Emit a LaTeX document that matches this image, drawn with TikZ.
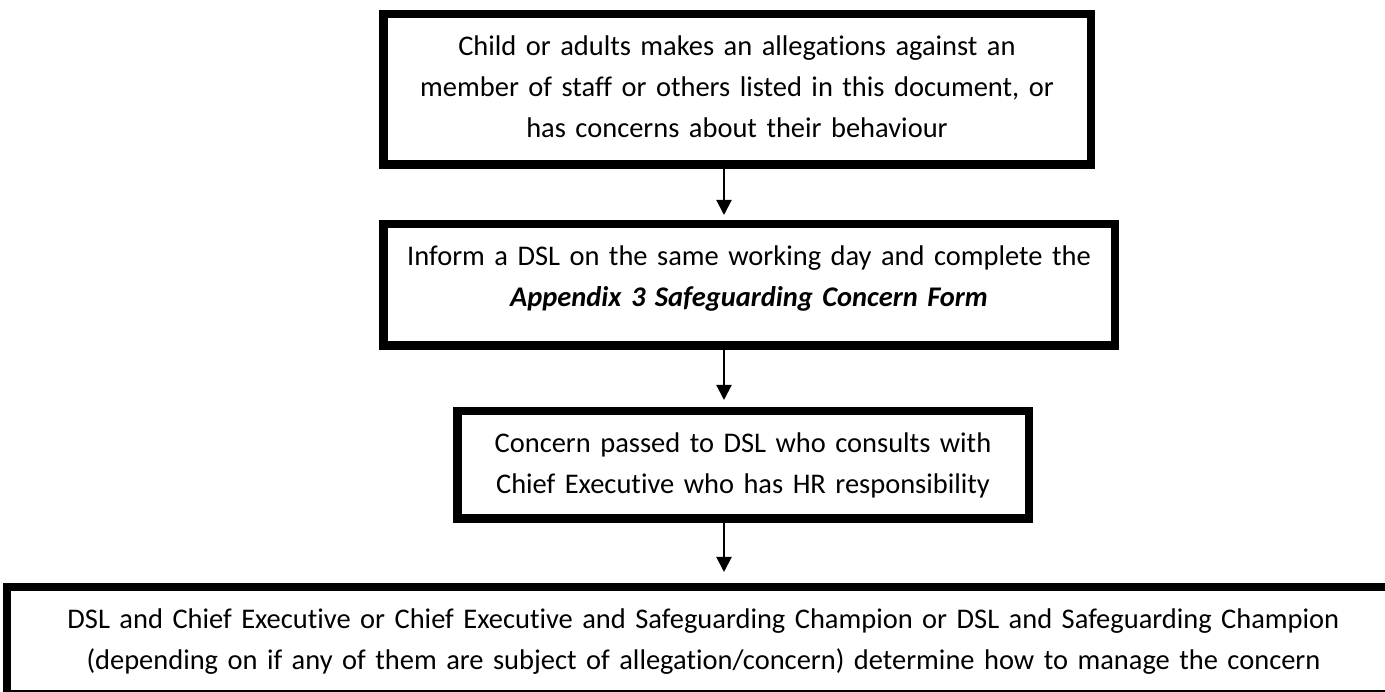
\documentclass[tikz,border=0pt]{standalone}
\usepackage{fontspec}
\setmainfont{Carlito}[Ligatures=NoCommon]
\usetikzlibrary{arrows.meta,positioning}

\tikzset{
  stepbox/.style={draw, line width=0.17cm, inner sep=0pt, align=center, anchor=north,
    text height=0.83cm, font=\fontsize{16.2pt}{23.3pt}\selectfont},
  flow/.style={-{Triangle[length=0.3cm,width=0.3cm]}, line width=0.04cm}
}

\begin{document}
\begin{tikzpicture}
\useasboundingbox (0,0) rectangle (27.70,-13.84);
\clip (0,0) rectangle (27.70,-13.84);
\coordinate (spine) at (14.48,0);
\node[stepbox, text width=14.15cm, text depth=2.18cm] (report) at (14.74,-0.20)
  {Child or adults makes an allegations against an\\ member of staff or others listed in this document, or\\ has concerns about their behaviour};
\node[stepbox, text width=14.63cm, text depth=1.60cm] (inform) at (14.98,-4.40)
  {Inform a DSL on the same working day and complete the\\ \textbf{\textit{Appendix 3 Safeguarding Concern Form}}};
\node[stepbox, text width=11.43cm, text depth=1.32cm] (consult) at (14.86,-8.14)
  {Concern passed to DSL who consults with\\ Chief Executive who has HR responsibility};
\node[stepbox, text width=27.85cm, text depth=1.32cm] (decide) at (14.07,-11.66)
  {DSL and Chief Executive or Chief Executive and Safeguarding Champion or DSL and Safeguarding Champion\\ (depending on if any of them are subject of allegation/concern) determine how to manage the concern};
\draw[flow, shorten >=0.1cm] (report.south -| spine) -- (inform.north -| spine);
\draw[flow, shorten >=0.14cm] (inform.south -| spine) -- (consult.north -| spine);
\draw[flow, shorten >=0.22cm] (consult.south -| spine) -- (decide.north -| spine);
\end{tikzpicture}
\end{document}
